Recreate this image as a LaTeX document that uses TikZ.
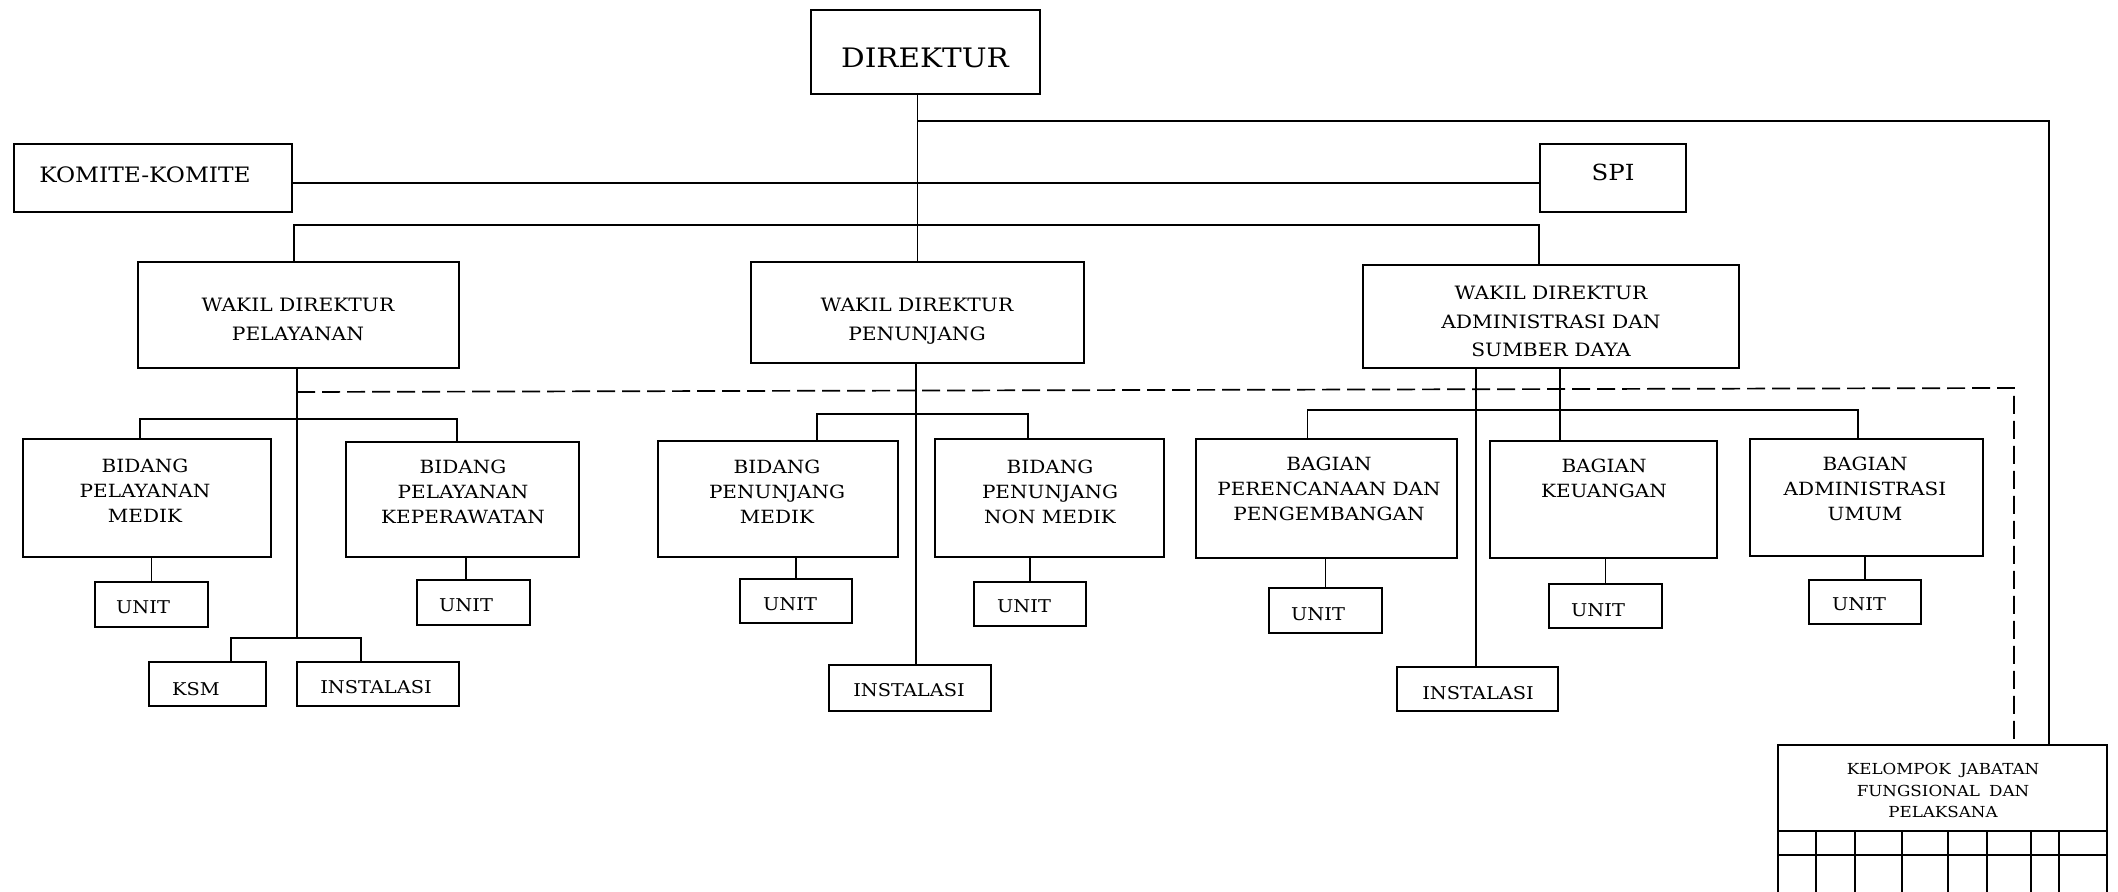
\documentclass[tikz,border=0pt]{standalone}
\usepackage{fontspec}
\setmainfont[FakeStretch=1.1]{DejaVu Serif}
\usetikzlibrary{calc}
\newcommand\fs[2]{\fontsize{#1}{#2}\selectfont}
\newcommand\bx[5]{\node[box, minimum width={(#4-#2)*0.5pt}, minimum height={(#5-#3)*0.5pt}] (#1) at ({(#2+#4)/2},{(#3+#5)/2}) {};}
\begin{document}
\begin{tikzpicture}[x=0.5pt,y=-0.5pt,
  box/.style={draw, line width=0.95pt, inner sep=0pt},
  txt/.style={inner sep=0pt, anchor=north, align=center},
  conn/.style={line width=0.8pt},
  mline/.style={line width=1pt},
  dline/.style={line width=0.85pt, dash pattern=on 9pt off 3.5pt},
  wakil/.style={txt, font=\fs{9.2}{14.2}},
  bid/.style={txt, font=\fs{9.1}{12.5}},
  small/.style={txt, font=\fs{8.8}{10}}]
\useasboundingbox (0,0) rectangle (2118,892);
\clip (0,0) rectangle (2118,892);
% boxes
\bx{dir}{811}{10}{1040}{94}
\bx{komite}{14}{144}{292}{212}
\bx{spi}{1540}{144}{1686}{212}
\bx{wpl}{138}{262}{459}{368}
\bx{wpj}{751}{262}{1084}{363}
\bx{wadm}{1363}{265}{1739}{368}
\bx{bpm}{23}{439}{271}{557}
\bx{bpk}{346}{442}{579}{557}
\bx{bpjm}{658}{441}{898}{557}
\bx{bpnm}{935}{439}{1164}{557}
\bx{per}{1196}{439}{1457}{558}
\bx{keu}{1490}{441}{1717}{558}
\bx{adm}{1750}{439}{1983}{556}
\bx{u1}{95}{582}{208}{627}
\bx{u2}{417}{580}{530}{625}
\bx{ksm}{149}{662}{266}{706}
\bx{inst1}{297}{662}{459}{706}
\bx{u3}{740}{579}{852}{623}
\bx{u4}{974}{582}{1086}{626}
\bx{inst2}{829}{665}{991}{711}
\bx{u5}{1269}{588}{1382}{633}
\bx{u6}{1549}{584}{1662}{628}
\bx{u7}{1809}{580}{1921}{624}
\bx{inst3}{1397}{667}{1558}{711}
\bx{kjf}{1778}{745}{2107}{831}
% texts
\node[txt, font=\fs{13.4}{16}] (tdir) at (925,48) {DIREKTUR};
\node[txt, font=\fs{10.6}{13}] (tkom) at (145,166) {KOMITE-KOMITE};
\node[txt, font=\fs{11.1}{13}] (tspi) at (1613,164) {SPI};
\node[wakil] (twpl) at (298,298) {WAKIL DIREKTUR\\PELAYANAN};
\node[wakil] (twpj) at (917,298) {WAKIL DIREKTUR\\PENUNJANG};
\node[wakil] (twadm) at (1551,286) {WAKIL DIREKTUR\\ADMINISTRASI DAN\\SUMBER DAYA};
\node[bid] (tbpm) at (145,459) {BIDANG\\PELAYANAN\\MEDIK};
\node[bid] (tbpk) at (463,460) {BIDANG\\PELAYANAN\\KEPERAWATAN};
\node[bid] (tbpjm) at (777,460) {BIDANG\\PENUNJANG\\MEDIK};
\node[bid] (tbpnm) at (1050,460) {BIDANG\\PENUNJANG\\NON MEDIK};
\node[bid] (tper) at (1329,457) {BAGIAN\\PERENCANAAN DAN\\PENGEMBANGAN};
\node[bid] (tkeu) at (1604,459) {BAGIAN\\KEUANGAN};
\node[bid] (tadm) at (1865,457) {BAGIAN\\ADMINISTRASI\\UMUM};
\node[small] (tu1) at (143,600) {UNIT};
\node[small] (tu2) at (466,598) {UNIT};
\node[small] (tksm) at (196,682) {KSM};
\node[small] (ti1) at (376,680) {INSTALASI};
\node[small] (tu3) at (790,597) {UNIT};
\node[small] (tu4) at (1024,599) {UNIT};
\node[small] (ti2) at (909,683) {INSTALASI};
\node[small] (tu5) at (1318,607) {UNIT};
\node[small] (tu6) at (1598,603) {UNIT};
\node[small] (tu7) at (1859,597) {UNIT};
\node[small] (ti3) at (1478,686) {INSTALASI};
\node[txt, font=\fs{7.6}{10.8}] (tkjf) at (1943,763) {KELOMPOK\hspace{0.6em}JABATAN\\FUNGSIONAL\hspace{0.6em}DAN\\PELAKSANA};
% direktur trunk and right line
\draw[conn] (wpj.north |- dir.south) -- (wpj.north);
\coordinate (j1) at (918,121);
\coordinate (kr) at (2049,121);
\draw[mline] (j1) -- (kr) -- (kr |- kjf.north);
% komite - spi
\coordinate (ks) at (0,183);
\draw[mline] (komite.east |- ks) -- (spi.west |- ks);
% wakil bar
\coordinate (wb) at (294,225);
\draw[conn] (wb |- wpl.north) -- (wb) -- (spi.west |- wb) -- (spi.west |- wadm.north);
% dashed
\coordinate (dl) at (297,392);
\coordinate (dr) at (2014,388);
\draw[dline] (dl) -- (dr) -- (dr |- kjf.north);
% pelayanan
\coordinate (kb1) at (231,638);
\coordinate (kb2) at (361,638);
\draw[conn] (dl |- wpl.south) -- (dl |- kb1);
\coordinate (b1l) at (140,419);
\coordinate (b1r) at (457,419);
\draw[conn] (b1l |- bpm.north) -- (b1l) -- (b1r) -- (b1r |- bpk.north);
\draw[conn] (bpm.south -| u1.north) -- (u1.north);
\coordinate (c2) at (466,0);
\draw[conn] (c2 |- bpk.south) -- (c2 |- u2.north);
\draw[conn] (kb1 |- ksm.north) -- (kb1) -- (kb2) -- (kb2 |- inst1.north);
% penunjang
\coordinate (pjv) at (916,0);
\draw[conn] (pjv |- wpj.south) -- (pjv |- inst2.north);
\coordinate (b2l) at (817,414);
\coordinate (b2r) at (1028,414);
\draw[conn] (b2l |- bpjm.north) -- (b2l) -- (b2r) -- (b2r |- bpnm.north);
\draw[conn] (bpjm.south -| u3.north) -- (u3.north);
\draw[conn] (bpnm.south -| u4.north) -- (u4.north);
% administrasi
\coordinate (av1) at (1476,0);
\coordinate (av2) at (1560,0);
\draw[conn] (av1 |- wadm.south) -- (av1 |- inst3.north);
\draw[conn] (av2 |- wadm.south) -- (av2 |- keu.north);
\coordinate (b3l) at (1307.5,410);
\coordinate (b3r) at (1858,410);
\draw[conn] (b3l |- per.north) -- (b3l) -- (b3r) -- (b3r |- adm.north);
\draw[conn] (per.south -| u5.north) -- (u5.north);
\draw[conn] (keu.south -| u6.north) -- (u6.north);
\draw[conn] (adm.south -| u7.north) -- (u7.north);
% grid below kelompok
\coordinate (gr) at (0,855);
\coordinate (gb) at (0,900);
\draw[line width=0.95pt] (kjf.south west |- gr) -- (kjf.south east |- gr);
\foreach \gx in {1778,1815.7,1854.7,1902.3,1947.7,1987.3,2030.7,2059.3,2107}
  \draw[line width=0.95pt] (kjf.south -| \gx,0) -- (gb -| \gx,0);
\end{tikzpicture}
\end{document}
